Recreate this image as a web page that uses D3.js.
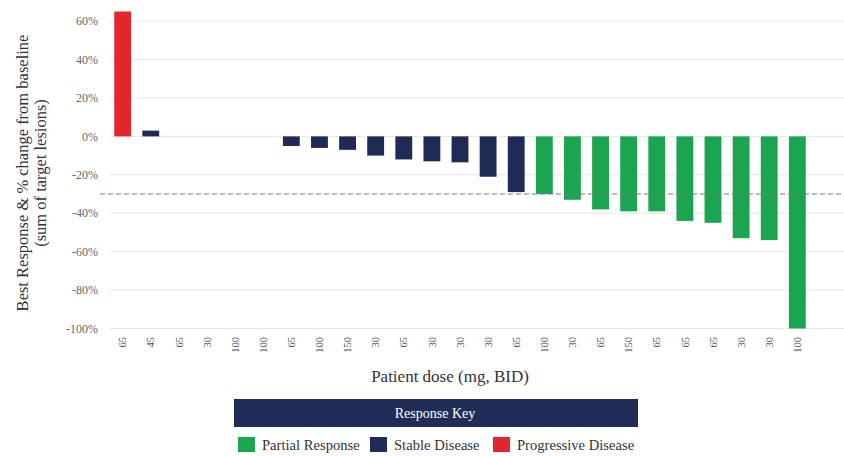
<!DOCTYPE html>
<html>
<head>
<meta charset="utf-8">
<script src="https://cdn.jsdelivr.net/npm/d3@7"></script>
<style>
  body { margin: 0; background: #fff; }
  text { font-family: "Liberation Serif", "DejaVu Serif", serif; }
</style>
</head>
<body>
<svg width="844" height="456"></svg>
<script>
const DOSES = ['65', '45', '65', '30', '100', '100', '65', '100', '150', '30', '65', '30', '30',
  '30', '65', '100', '30', '65', '150', '65', '65', '65', '30', '30', '100']
const CHANGES = [65, 3, 0, 0, 0, 0, -5, -6, -7, -10, -12, -13, -13.5,
  -21, -29, -30, -33, -38, -39, -39, -44, -45, -53, -54, -100]
const RESPONSES = ['PD', 'SD', 'SD', 'SD', 'SD', 'SD', 'SD', 'SD', 'SD', 'SD', 'SD', 'SD', 'SD',
  'SD', 'SD', 'PR', 'PR', 'PR', 'PR', 'PR', 'PR', 'PR', 'PR', 'PR', 'PR']
const Y_TICKS = [60, 40, 20, 0, -20, -40, -60, -80, -100]
const THRESHOLD = -30
const LEGEND = [
  { key: 'PR', label: 'Partial Response' },
  { key: 'SD', label: 'Stable Disease' },
  { key: 'PD', label: 'Progressive Disease' }
]

const COLORS = { PR: '#1ba550', SD: '#1f2b57', PD: '#e2262d' }

const svg = d3.select('svg')
const gridLeft = 110
const gridRight = 844

const x = d3.scaleBand()
  .domain(DOSES.map((d, i) => i))
  .range([103, 817])
  .padding(0.4)

const y = d3.scaleLinear()
  .domain([-100, 65])
  .range([328.5, 11.5])

// gridlines
svg.append('g')
  .selectAll('line')
  .data(Y_TICKS)
  .enter().append('line')
  .attr('x1', gridLeft)
  .attr('x2', gridRight)
  .attr('y1', d => y(d))
  .attr('y2', d => y(d))
  .attr('stroke', '#e6e6e6')
  .attr('stroke-width', 1)

// y tick labels
svg.append('g')
  .selectAll('text')
  .data(Y_TICKS)
  .enter().append('text')
  .attr('x', 98)
  .attr('y', d => y(d))
  .attr('dy', '0.35em')
  .attr('text-anchor', 'end')
  .attr('font-size', 12)
  .attr('fill', '#666')
  .text(d => d + '%')

// bars
svg.append('g')
  .selectAll('rect')
  .data(CHANGES)
  .enter().append('rect')
  .attr('x', (d, i) => x(i))
  .attr('width', x.bandwidth())
  .attr('y', d => y(Math.max(0, d)))
  .attr('height', d => Math.abs(y(d) - y(0)))
  .attr('fill', (d, i) => COLORS[RESPONSES[i]])

// -30% threshold
svg.append('line')
  .attr('x1', 100)
  .attr('x2', gridRight)
  .attr('y1', y(THRESHOLD))
  .attr('y2', y(THRESHOLD))
  .attr('stroke', '#777')
  .attr('stroke-width', 1)
  .attr('stroke-dasharray', '5,3')

// x tick labels (rotated, top-aligned)
svg.append('g')
  .selectAll('text')
  .data(DOSES)
  .enter().append('text')
  .attr('transform', (d, i) => `translate(${x(i) + x.bandwidth() / 2},337) rotate(-90)`)
  .attr('text-anchor', 'end')
  .attr('dy', '0.35em')
  .attr('font-size', 10.5)
  .attr('fill', '#555')
  .text(d => d)

// axis titles
const yTitle = svg.append('text')
  .attr('transform', 'translate(22,173) rotate(-90)')
  .attr('text-anchor', 'middle')
  .attr('font-size', 16.5)
  .attr('fill', '#333')
yTitle.append('tspan').attr('x', 0).attr('dy', '0.35em').text('Best Response & % change from baseline')
yTitle.append('tspan').attr('x', 0).attr('dy', '1.1em').text('(sum of target lesions)')

svg.append('text')
  .attr('x', 450)
  .attr('y', 376)
  .attr('text-anchor', 'middle')
  .attr('dy', '0.35em')
  .attr('font-size', 17)
  .attr('fill', '#333')
  .text('Patient dose (mg, BID)')

// legend
svg.append('rect')
  .attr('x', 234)
  .attr('y', 399)
  .attr('width', 404)
  .attr('height', 28)
  .attr('fill', '#1f2d58')

svg.append('text')
  .attr('x', 435)
  .attr('y', 413)
  .attr('dy', '0.35em')
  .attr('text-anchor', 'middle')
  .attr('font-size', 14)
  .attr('fill', '#fff')
  .text('Response Key')

const legendX = [238, 370, 493]
const item = svg.append('g')
  .selectAll('g')
  .data(LEGEND)
  .enter().append('g')
  .attr('transform', (d, i) => `translate(${legendX[i]},437)`)
item.append('rect')
  .attr('width', 17)
  .attr('height', 15)
  .attr('fill', d => COLORS[d.key])
item.append('text')
  .attr('x', 24)
  .attr('y', 7.5)
  .attr('dy', '0.35em')
  .attr('font-size', 14.6)
  .attr('fill', '#333')
  .text(d => d.label)
</script>
</body>
</html>
